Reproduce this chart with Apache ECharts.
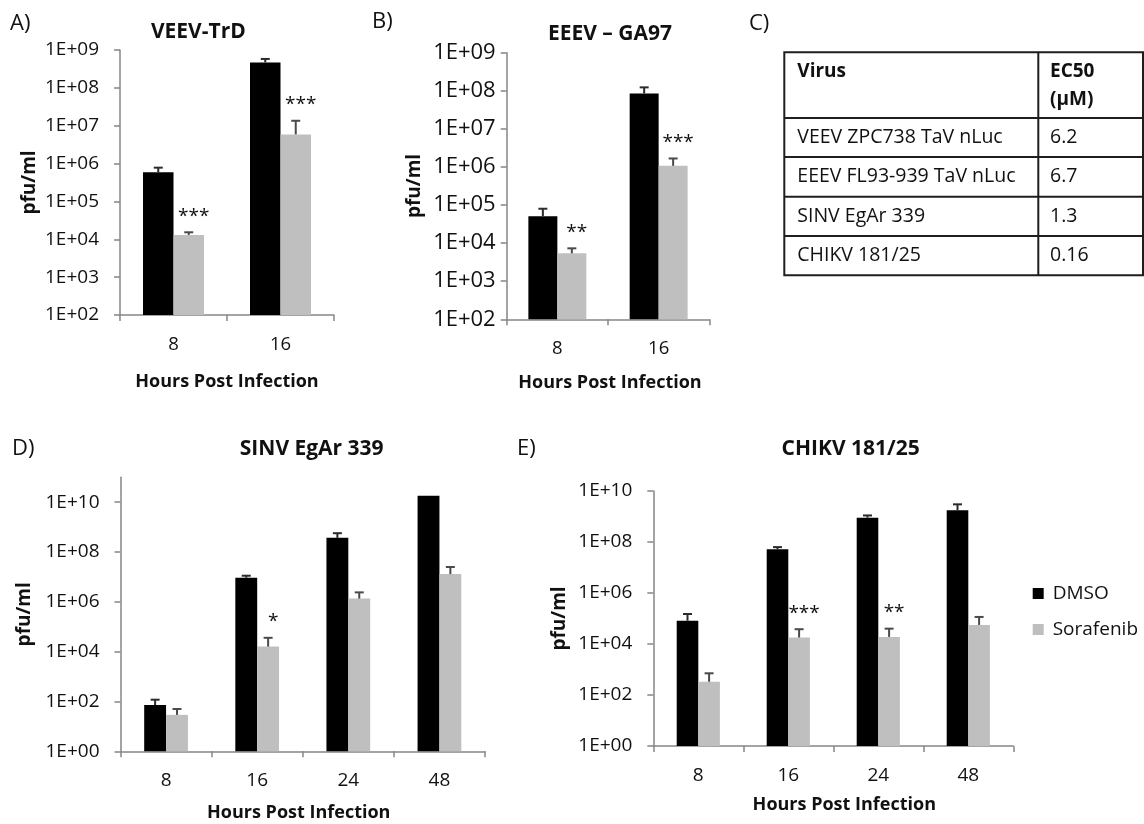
<!DOCTYPE html>
<html><head><meta charset="utf-8">
<script src="https://cdn.jsdelivr.net/npm/echarts@6/dist/echarts.min.js"></script>
<style>html,body{margin:0;padding:0;background:#fff}#c{width:1144px;height:824px}</style>
</head><body><div id="c"></div>
<script>
// ---------- data ----------
const catsAB = ['8', '16'];
const catsDE = ['8', '16', '24', '48'];
const ticksAB = [1e2, 1e3, 1e4, 1e5, 1e6, 1e7, 1e8, 1e9];
const ticksDE = [1, 1e2, 1e4, 1e6, 1e8, 1e10];
const seriesNames = ['DMSO', 'Sorafenib'];

// Panel A  VEEV-TrD
const aDmso = [5.9e5, 4.7e8];
const aDmsoErr = [7.8e5, 5.8e8];
const aSor = [1.3e4, 5.9e6];
const aSorErr = [1.53e4, 1.35e7];
const aStars = ['***', '***'];
// Panel B  EEEV - GA97
const bDmso = [5.1e4, 8.5e7];
const bDmsoErr = [8.0e4, 1.23e8];
const bSor = [5.4e3, 1.07e6];
const bSorErr = [7.3e3, 1.67e6];
const bStars = ['**', '***'];
// Panel D  SINV EgAr 339
const dDmso = [72, 9.3e6, 3.7e8, 1.8e10];
const dDmsoErr = [118, 1.12e7, 5.7e8, null];
const dSor = [29, 1.6e4, 1.35e6, 1.3e7];
const dSorErr = [50, 3.6e4, 2.4e6, 2.5e7];
const dStars = ['', '*', '', ''];
// Panel E  CHIKV 181/25
const eDmso = [8.2e4, 5.2e7, 9.0e8, 1.75e9];
const eDmsoErr = [1.5e5, 6.3e7, 1.1e9, 3.0e9];
const eSor = [330, 1.8e4, 1.9e4, 5.6e4];
const eSorErr = [710, 3.8e4, 4.0e4, 1.15e5];
const eStars = ['', '***', '**', ''];

const titles = ['VEEV-TrD', 'EEEV \u2013 GA97', 'SINV EgAr 339', 'CHIKV 181/25'];
const panelLabels = ['A)', 'B)', 'C)', 'D)', 'E)'];
const xName = 'Hours Post Infection';
const yName = 'pfu/ml';

// Panel C table
const tableHeader = ['Virus', 'EC50\n(\u03bcM)'];
const tableRows = [
  ['VEEV ZPC738 TaV nLuc', '6.2'],
  ['EEEV FL93-939 TaV nLuc', '6.7'],
  ['SINV EgAr 339', '1.3'],
  ['CHIKV 181/25', '0.16']
];

// ---------- style / layout ----------
const FF = '"Open Sans", "Liberation Sans", sans-serif';
const TXT = '#111';
const AX = '#868686';
const COLORS = ['#000000', '#BFBFBF'];
const ERRC = ['#2b2b2b', '#4a4a4a'];

const panels = [
  {cats: catsAB, ticks: ticksAB, min: 1e2, max: 1e9, dm: aDmso, dmE: aDmsoErr, so: aSor, soE: aSorErr, stars: aStars,
   grid: {left: 120, top: 50, width: 214, height: 265}, frac: 0.285, yLab: 19, yMargin: 21, xLab: 18.5,
   yGap: 81, xGap: 58, xPad: [0, 0, 0, 0]},
  {cats: catsAB, ticks: ticksAB, min: 1e2, max: 1e9, dm: bDmso, dmE: bDmsoErr, so: bSor, soE: bSorErr, stars: bStars,
   grid: {left: 506.7, top: 52.7, width: 202.6, height: 266.6}, frac: 0.286, yLab: 22, yMargin: 11, xLab: 18.5,
   yGap: 83, xGap: 55, xPad: [0, 0, 0, 4]},
  {cats: catsDE, ticks: ticksDE, min: 1, max: 1e11, dm: dDmso, dmE: dDmsoErr, so: dSor, soE: dSorErr, stars: dStars,
   grid: {left: 120.5, top: 477.3, width: 364.5, height: 274}, frac: 0.24, yLab: 19, yMargin: 21, xLab: 19,
   yGap: 86, xGap: 53, xPad: [0, 8, 0, 0]},
  {cats: catsDE, ticks: ticksDE, min: 1, max: 1e10, dm: eDmso, dmE: eDmsoErr, so: eSor, soE: eSorErr, stars: eStars,
   grid: {left: 653.3, top: 491, width: 360, height: 255}, frac: 0.24, yLab: 19, yMargin: 21, xLab: 19,
   yGap: 84.5, xGap: 50, xPad: [0, 0, 0, 22]}
];

function fmtExp(v) {
  const e = Math.round(Math.log10(v));
  return '1E+' + (e < 10 ? '0' : '') + e;
}

function errRender(sign, frac, stars, color) {
  return function (params, api) {
    const k = api.value(0), v = api.value(1), e = api.value(2);
    const bw = api.size([1, 1])[0] * frac;
    const base = api.coord([k, v]);
    const x = base[0] + sign * bw / 2;
    const ch = [];
    let topY = base[1];
    if (isFinite(e) && e > 0) {
      const te = api.coord([k, e]);
      topY = te[1];
      ch.push({type: 'line', shape: {x1: x, y1: base[1], x2: x, y2: te[1]}, style: {stroke: color, lineWidth: 2}});
      ch.push({type: 'line', shape: {x1: x - 4.5, y1: te[1], x2: x + 4.5, y2: te[1]}, style: {stroke: color, lineWidth: 2}});
    }
    const s = stars ? stars[params.dataIndex] : '';
    if (s) {
      ch.push({type: 'text', style: {text: s, x: x + 5, y: topY - 16, align: 'center', verticalAlign: 'middle',
        textAlign: 'center', textVerticalAlign: 'middle', fontSize: 19, fontFamily: FF, fill: TXT}});
    }
    return {type: 'group', children: ch};
  };
}

const grids = [], xAxes = [], yAxes = [], series = [];
panels.forEach(function (p, i) {
  grids.push(Object.assign({containLabel: false, outerBoundsMode: 'none'}, p.grid));
  xAxes.push({
    gridIndex: i, type: 'category', data: p.cats,
    axisLine: {lineStyle: {color: AX, width: 1.5}},
    axisTick: {show: true, length: 6, lineStyle: {color: AX, width: 1.5}},
    axisLabel: {margin: 20, fontSize: p.xLab, color: TXT, fontFamily: FF},
    splitLine: {show: false},
    name: xName, nameLocation: 'middle', nameGap: p.xGap,
    nameTextStyle: {fontWeight: 'bold', fontSize: 18, color: TXT, fontFamily: FF, padding: p.xPad}
  });
  yAxes.push({
    gridIndex: i, type: 'log', logBase: 10, min: p.min, max: p.max,
    axisLine: {show: true, lineStyle: {color: AX, width: 1.5}},
    axisTick: {show: true, length: 6, lineStyle: {color: AX, width: 1.5}, customValues: p.ticks},
    minorTick: {show: false},
    axisLabel: {customValues: p.ticks, formatter: fmtExp, margin: p.yMargin, fontSize: p.yLab, color: TXT, fontFamily: FF},
    splitLine: {show: false},
    name: yName, nameLocation: 'middle', nameGap: p.yGap,
    nameTextStyle: {fontWeight: 'bold', fontSize: 19, color: TXT, fontFamily: FF}
  });
  const vals = [p.dm, p.so], errs = [p.dmE, p.soE];
  [0, 1].forEach(function (s) {
    series.push({
      type: 'bar', name: seriesNames[s], xAxisIndex: i, yAxisIndex: i,
      data: vals[s], barWidth: (p.frac * 100) + '%', barGap: '0%', clip: true, silent: true,
      itemStyle: {color: COLORS[s]}
    });
  });
  [0, 1].forEach(function (s) {
    series.push({
      type: 'custom', name: seriesNames[s] + ' error', xAxisIndex: i, yAxisIndex: i, silent: true, z: 5,
      renderItem: errRender(s === 0 ? -1 : 1, p.frac, s === 1 ? p.stars : null, ERRC[s]),
      encode: {x: 0, y: 1},
      data: vals[s].map(function (v, k) { return [k, v, errs[s][k] == null ? '-' : errs[s][k]]; })
    });
  });
});

// graphic: panel labels, titles, table
const g = [];
function txt(text, x, y, size, bold, align) {
  g.push({type: 'text', silent: true, style: {text: text, x: x, y: y, fontSize: size, fontFamily: FF,
    fontWeight: bold ? 'bold' : 'normal', fill: TXT, align: align || 'left', verticalAlign: 'middle',
    textAlign: align || 'left', textVerticalAlign: 'middle', lineHeight: 28}});
}
const labelPos = [[10, 24], [372, 22], [749, 24], [12, 449], [517, 449]];
panelLabels.forEach(function (t, i) { txt(t, labelPos[i][0], labelPos[i][1], 22, false); });
const titlePos = [[198.3, 32.5], [610, 34.5], [311.7, 449], [850.7, 449]];
titles.forEach(function (t, i) { txt(t, titlePos[i][0], titlePos[i][1], 21, true, 'center'); });

const tbl = {x0: 784.3, x1: 1143, xc: 1038.3, lines: [52.3, 118, 157, 196.7, 236, 275.3], tx: [797.3, 1050]};
g.push({type: 'rect', silent: true, shape: {x: tbl.x0, y: tbl.lines[0], width: tbl.x1 - tbl.x0, height: tbl.lines[5] - tbl.lines[0]},
  style: {fill: 'none', stroke: '#1e1e1e', lineWidth: 2}});
g.push({type: 'line', silent: true, shape: {x1: tbl.xc, y1: tbl.lines[0], x2: tbl.xc, y2: tbl.lines[5]}, style: {stroke: '#1e1e1e', lineWidth: 2}});
for (let r = 1; r < 5; r++) {
  g.push({type: 'line', silent: true, shape: {x1: tbl.x0, y1: tbl.lines[r], x2: tbl.x1, y2: tbl.lines[r]}, style: {stroke: '#1e1e1e', lineWidth: 2}});
}
txt(tableHeader[0], tbl.tx[0], 72, 19, true);
txt(tableHeader[1], tbl.tx[1], 86, 19, true);
tableRows.forEach(function (row, r) {
  const yc = (tbl.lines[r + 1] + tbl.lines[r + 2]) / 2;
  txt(row[0], tbl.tx[0], yc, 19.5, false);
  txt(row[1], tbl.tx[1], yc, 19.5, false);
});

const chart = echarts.init(document.getElementById('c'), null, {renderer: 'canvas'});
chart.setOption({
  backgroundColor: '#ffffff',
  animation: false,
  textStyle: {fontFamily: FF},
  grid: grids, xAxis: xAxes, yAxis: yAxes, series: series,
  legend: {
    data: seriesNames, orient: 'vertical', left: 1032.7, top: 584, padding: 0,
    itemWidth: 11, itemHeight: 11, itemGap: 17, icon: 'rect', selectedMode: false,
    textStyle: {fontSize: 19, color: TXT, fontFamily: FF, padding: [0, 0, 0, 4]}
  },
  graphic: g
});
</script></body></html>
